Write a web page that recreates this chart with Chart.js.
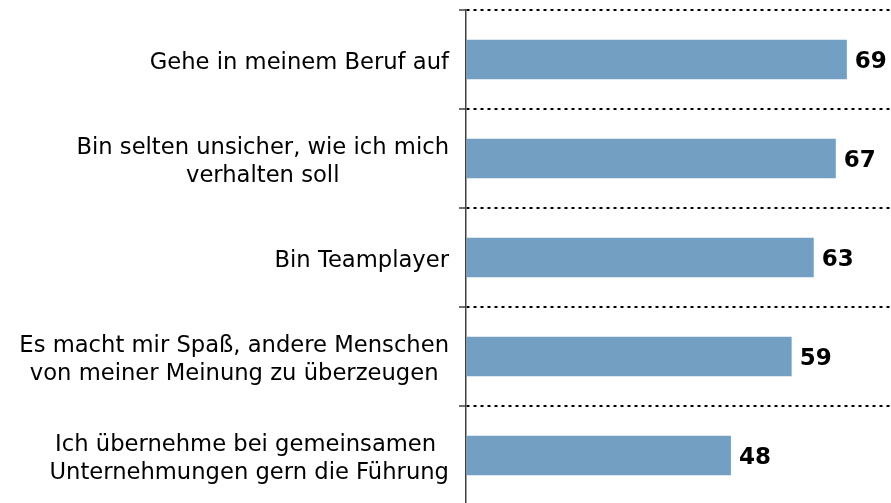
<!DOCTYPE html>
<html>
<head>
<meta charset="utf-8">
<script src="https://cdn.jsdelivr.net/npm/chart.js@4/dist/chart.umd.min.js"></script>
<style>
  html, body { margin: 0; padding: 0; background: #ffffff; overflow: hidden; }
  #wrap { position: relative; width: 891px; height: 505px; }
</style>
</head>
<body>
<div id="wrap"><canvas id="c"></canvas></div>
<script>
const categories = [
  ["Gehe in meinem Beruf auf"],
  ["Bin selten unsicher, wie ich mich", "verhalten soll"],
  ["Bin Teamplayer"],
  ["Es macht mir Spaß, andere Menschen", "von meiner Meinung zu überzeugen"],
  ["Ich übernehme bei gemeinsamen ", "Unternehmungen gern die Führung"]
];
const values = [69, 67, 63, 59, 48];
const valueLabels = ["69", "67", "63", "59", "48"];

const AXIS_X = 466;
const LABEL_RIGHT = 449;
const LABEL_FONT = '22.67px "DejaVu Sans"';
const VALUE_FONT = 'bold 23px "DejaVu Sans"';
const LINE_H = 28;

const labelPlugin = {
  id: 'customLabels',
  afterDraw(chart) {
    const ctx = chart.ctx;
    const yScale = chart.scales.y;
    const xScale = chart.scales.x;
    ctx.save();
    ctx.fillStyle = '#000000';
    ctx.font = LABEL_FONT;
    ctx.textAlign = 'center';
    ctx.textBaseline = 'alphabetic';
    categories.forEach((lines, i) => {
      const yc = yScale.getPixelForValue(i);
      const widths = lines.map(l => ctx.measureText(l).width);
      const bw = Math.max(...widths);
      const cx = LABEL_RIGHT - bw / 2;
      const n = lines.length;
      lines.forEach((l, j) => {
        ctx.fillText(l, cx, yc + 9.5 + (j - (n - 1) / 2) * LINE_H);
      });
    });
    ctx.font = VALUE_FONT;
    ctx.textAlign = 'left';
    const meta = chart.getDatasetMeta(0);
    meta.data.forEach((bar, i) => {
      const x = xScale.getPixelForValue(values[i]) + 8;
      ctx.fillText(valueLabels[i], x, bar.y + 8);
    });
    ctx.restore();
  }
};

new Chart(document.getElementById('c'), {
  type: 'bar',
  data: {
    labels: categories.map(l => l.join(' ')),
    datasets: [{
      data: values,
      backgroundColor: '#739fc2',
      borderWidth: 0,
      categoryPercentage: 1.0,
      barPercentage: 0.4
    }]
  },
  options: {
    indexAxis: 'y',
    responsive: true,
    maintainAspectRatio: false,
    animation: false,
    layout: { padding: { top: 10, right: 0, bottom: 0, left: 0 } },
    plugins: { legend: { display: false }, tooltip: { enabled: false } },
    scales: {
      x: {
        display: false,
        min: 0,
        max: 77,
        grid: { display: false }
      },
      y: {
        type: 'category',
        offset: true,
        ticks: { display: false },
        grid: {
          offset: true,
          color: '#000000',
          lineWidth: 2,
          drawTicks: true,
          tickLength: 7,
          tickColor: '#404040',
          tickWidth: 1.5,
          tickBorderDash: []
        },
        border: {
          display: true,
          color: '#404040',
          width: 1.5,
          dash: [3, 4]
        },
        afterFit(scale) { scale.width = AXIS_X; }
      }
    }
  },
  plugins: [labelPlugin]
});
</script>
</body>
</html>
